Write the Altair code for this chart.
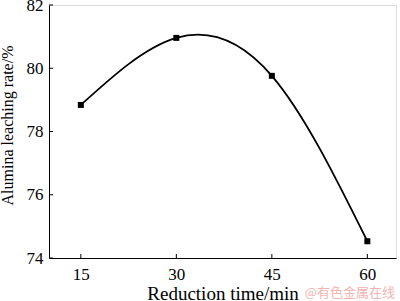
import altair as alt
import pandas as pd

times = [15, 30, 45, 60]
leaching = [78.84, 80.96, 79.76, 74.53]
x_ticks = [15, 30, 45, 60]
y_ticks = [74, 76, 78, 80, 82]

df = pd.DataFrame({"t": times, "r": leaching})
xt = pd.DataFrame({"v": x_ticks})
yt = pd.DataFrame({"v": y_ticks})

W, H = 347, 253
FONT = "Liberation Serif"

xs = alt.Scale(domain=[10, 64.5], nice=False, zero=False)
ys = alt.Scale(domain=[74, 82], nice=False, zero=False)

xaxis = alt.Axis(values=x_ticks, ticks=False, tickSize=0, grid=False, labelPadding=8,
                 labelFont=FONT, labelFontSize=17, labelColor="black",
                 titleFont=FONT, titleFontSize=19, titleFontWeight="normal", titleColor="black",
                 titlePadding=2, domainColor="black", domainWidth=1)
yaxis = alt.Axis(values=y_ticks, ticks=False, tickSize=0, grid=False, labelPadding=6,
                 labelFont=FONT, labelFontSize=17, labelColor="black",
                 titleFont=FONT, titleFontSize=16, titleFontWeight="normal", titleColor="black",
                 titleX=-34, titleY=120, domainColor="black", domainWidth=1)

line = alt.Chart(df).mark_line(interpolate="natural", color="black", strokeWidth=1.8).encode(
    x=alt.X("t:Q", scale=xs, axis=xaxis, title="Reduction time/min"),
    y=alt.Y("r:Q", scale=ys, axis=yaxis, title="Alumina leaching rate/%"),
)
pts = alt.Chart(df).mark_square(color="black", size=36, opacity=1).encode(
    x=alt.X("t:Q", scale=xs),
    y=alt.Y("r:Q", scale=ys),
)
xtick = alt.Chart(xt).mark_rule(color="black", strokeWidth=1).encode(
    x=alt.X("v:Q", scale=xs),
    y=alt.value(H),
    y2=alt.value(H - 4),
)
ytick = alt.Chart(yt).mark_rule(color="black", strokeWidth=1).encode(
    y=alt.Y("v:Q", scale=ys),
    x=alt.value(0),
    x2=alt.value(4),
)
mark = alt.Chart(pd.DataFrame({"s": ["@有色金属在线"]})).mark_text(
    font="Noto Sans CJK SC", fontSize=13, color="#f2b3b3", align="right", baseline="middle"
).encode(text="s:N", x=alt.value(W - 1), y=alt.value(H + 35))

chart = alt.layer(line, pts, xtick, ytick, mark).properties(
    width=W, height=H,
    autosize=alt.AutoSizeParams(type="none"),
    padding={"left": 49, "top": 5, "right": 4, "bottom": 43},
).configure_view(stroke="#555555", strokeWidth=1).configure(background="white")

chart.save("out.html", embed_options={"renderer": "svg", "actions": False})
